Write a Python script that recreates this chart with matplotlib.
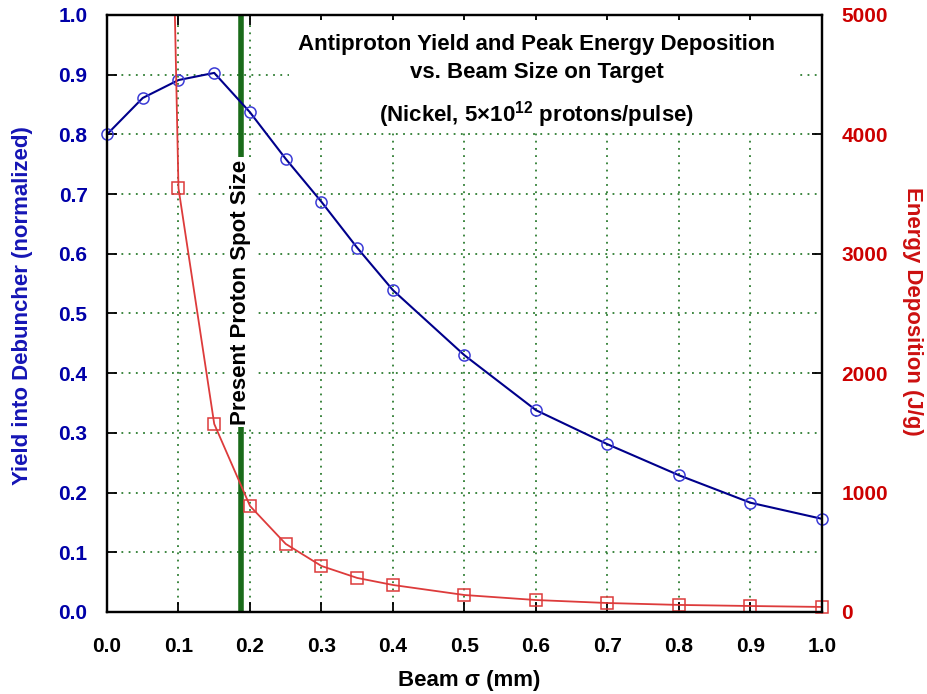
import matplotlib
matplotlib.use("Agg")
import matplotlib.pyplot as plt
from matplotlib.patches import Rectangle

plt.rcParams['font.family'] = ['Liberation Sans', 'DejaVu Sans']
plt.rcParams['font.weight'] = 'bold'
plt.rcParams['mathtext.fontset'] = 'custom'
plt.rcParams['mathtext.rm'] = 'Liberation Sans:bold'
plt.rcParams['mathtext.bf'] = 'Liberation Sans:bold'

# Yield into debuncher (normalized) vs beam sigma
sigma_yield = [0.0, 0.05, 0.1, 0.15, 0.2, 0.25, 0.3, 0.35, 0.4, 0.5, 0.6, 0.7, 0.8, 0.9, 1.0]
yield_norm = [0.800, 0.861, 0.891, 0.903, 0.837, 0.759, 0.687, 0.610, 0.539,
              0.430, 0.338, 0.281, 0.229, 0.183, 0.156]

# Peak energy deposition (J/g) vs beam sigma (first point is off scale)
sigma_edep = [0.05, 0.1, 0.15, 0.2, 0.25, 0.3, 0.35, 0.4, 0.5, 0.6, 0.7, 0.8, 0.9, 1.0]
edep = [18000, 3550, 1575, 888, 570, 385, 285, 226, 142, 100, 75, 59, 50, 42]

spot_size = 0.187

blue = '#0000a8'
red = '#cc0000'
green = '#2e7d32'

fig = plt.figure(figsize=(9.27, 6.94), dpi=100)
ax1 = fig.add_axes([0.1154, 0.1182, 0.7713, 0.8602])
ax2 = ax1.twinx()

ax1.set_axisbelow(True)
ax1.grid(True, color=green, linestyle=(0, (1, 3)), linewidth=1.3)

# white box behind the title
ax1.add_patch(Rectangle((0.255, 0.805), 0.707, 0.187, transform=ax1.transAxes,
                        facecolor='white', edgecolor='none', zorder=1))

ax1.plot(sigma_yield, yield_norm, color='#00008b', linewidth=1.5, zorder=3)
ax1.plot(sigma_yield, yield_norm, linestyle='none', marker='o', markersize=8,
         markerfacecolor='none', markeredgecolor='#3b3bd6', markeredgewidth=1.1,
         zorder=4, clip_on=False)

ax2.plot(sigma_edep, edep, color='#dd3b3b', linewidth=1.3)
in_range = [(s, e) for s, e in zip(sigma_edep, edep) if e <= 5000]
ax2.plot([p[0] for p in in_range], [p[1] for p in in_range], linestyle='none',
         marker='s', markersize=8.5, markerfacecolor='none', markeredgecolor='#dd3b3b',
         markeredgewidth=1.1, clip_on=False)

ax1.axvline(spot_size, color='#1a6b1a', linewidth=4, zorder=2)
ax1.text(spot_size, 0.536, 'Present Proton Spot Size', rotation=90, ha='center', va='center',
         fontsize=16, fontweight='bold', color='black', zorder=2.5,
         bbox=dict(facecolor='white', edgecolor='none', pad=2))

title_kw = dict(transform=ax1.transAxes, ha='center', va='center', fontsize=16,
                fontweight='bold', zorder=5)
ax1.text(0.601, 0.95, 'Antiproton Yield and Peak Energy Deposition', **title_kw)
ax1.text(0.601, 0.903, 'vs. Beam Size on Target', **title_kw)
ax1.text(0.601, 0.833, '(Nickel, 5\u00d710$^{12}$ protons/pulse)', **title_kw)

ax1.set_xlim(0, 1.0)
ax1.set_ylim(0, 1.0)
ax2.set_ylim(0, 5000)
ax1.set_xticks([i / 10 for i in range(11)])
ax1.set_yticks([i / 10 for i in range(11)])
ax2.set_yticks(range(0, 5001, 1000))
ax1.set_xticklabels([f'{i / 10:.1f}' for i in range(11)])
ax1.set_yticklabels([f'{i / 10:.1f}' for i in range(11)])

ax1.tick_params(axis='x', direction='in', top=True, length=7, width=1.3,
                labelsize=15, pad=18, labelcolor='black')
ax1.tick_params(axis='y', direction='in', length=7, width=1.3, labelsize=15,
                pad=14, labelcolor=blue)
ax2.tick_params(axis='y', direction='in', length=7, width=1.3, labelsize=15,
                pad=14, labelcolor=red)
for lab in ax1.get_xticklabels() + ax1.get_yticklabels() + ax2.get_yticklabels():
    lab.set_fontweight('bold')

for sp in ax1.spines.values():
    sp.set_linewidth(1.6)
for sp in ax2.spines.values():
    sp.set_linewidth(1.6)

ax1.set_xlabel('Beam \u03c3 (mm)', fontsize=16, fontweight='bold')
ax1.set_ylabel('Yield into Debuncher (normalized)', fontsize=16, fontweight='bold',
               color='#1515b5')
ax2.set_ylabel('Energy Deposition (J/g)', fontsize=16, fontweight='bold',
               color='#cc1010', rotation=270)
for lab in (ax1.xaxis.label, ax1.yaxis.label, ax2.yaxis.label):
    lab.set_va('center')
    lab.set_ha('center')
ax1.xaxis.set_label_coords(0.506, -0.114)
ax1.yaxis.set_label_coords(-0.1175, 0.513)
ax2.yaxis.set_label_coords(1.127, 0.504)

fig.savefig('out.png', dpi=100)
